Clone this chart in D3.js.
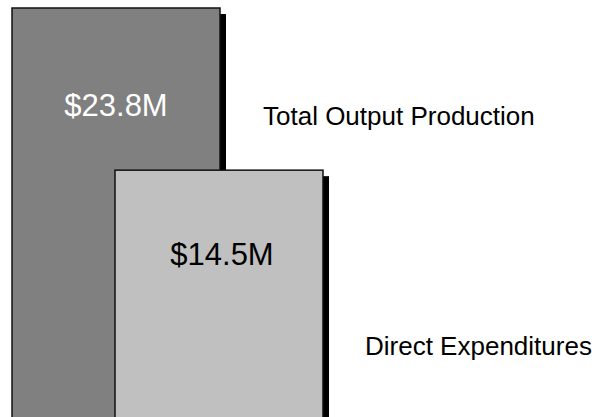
<!DOCTYPE html>
<html>
<head>
<meta charset="utf-8">
<script src="https://cdn.jsdelivr.net/npm/d3@7"></script>
<style>
  html, body { margin: 0; padding: 0; background: #fff; }
  svg { display: block; }
  text { font-family: Arial, "Liberation Sans", sans-serif; }
</style>
</head>
<body>
<div id="chart"></div>
<script>
const categories = ["Total Output Production", "Direct Expenditures"];
const values = [23.8, 14.5];
const valueLabels = ["$23.8M", "$14.5M"];
const fills = ["#808080", "#c0c0c0"];

const W = 599, H = 417;
const svg = d3.select("#chart").append("svg").attr("width", W).attr("height", H);

const x = d3.scaleLinear().domain([0, 1]).range([12, 115]);
const barW = 208;
const y = d3.scaleLinear().domain([0, 23.8]).range([423, 8]);
const shadow = 6;

const g = svg.append("g");
categories.forEach((c, i) => {
  const bx = x(i), by = y(values[i]), bh = y(0) - y(values[i]);
  g.append("rect")
    .attr("x", bx + shadow).attr("y", by + shadow)
    .attr("width", barW).attr("height", bh)
    .attr("fill", "#000");
  g.append("rect")
    .attr("x", bx).attr("y", by)
    .attr("width", barW).attr("height", bh)
    .attr("fill", fills[i])
    .attr("stroke", "#111").attr("stroke-width", 1.5);
});

// value labels
const valueY = [116, 265];
const valueColor = ["#ffffff", "#000000"];
categories.forEach((c, i) => {
  svg.append("text")
    .attr("x", x(i) + barW / 2 + (i === 1 ? 3 : 0))
    .attr("y", valueY[i])
    .attr("text-anchor", "middle")
    .attr("font-size", 31)
    .attr("fill", valueColor[i])
    .text(valueLabels[i]);
});

// category labels
const labelY = [125, 355];
categories.forEach((c, i) => {
  svg.append("text")
    .attr("x", x(i) + barW + 43 - i * 1)
    .attr("y", labelY[i])
    .attr("font-size", 26)
    .attr("fill", "#000")
    .text(c);
});
</script>
</body>
</html>
